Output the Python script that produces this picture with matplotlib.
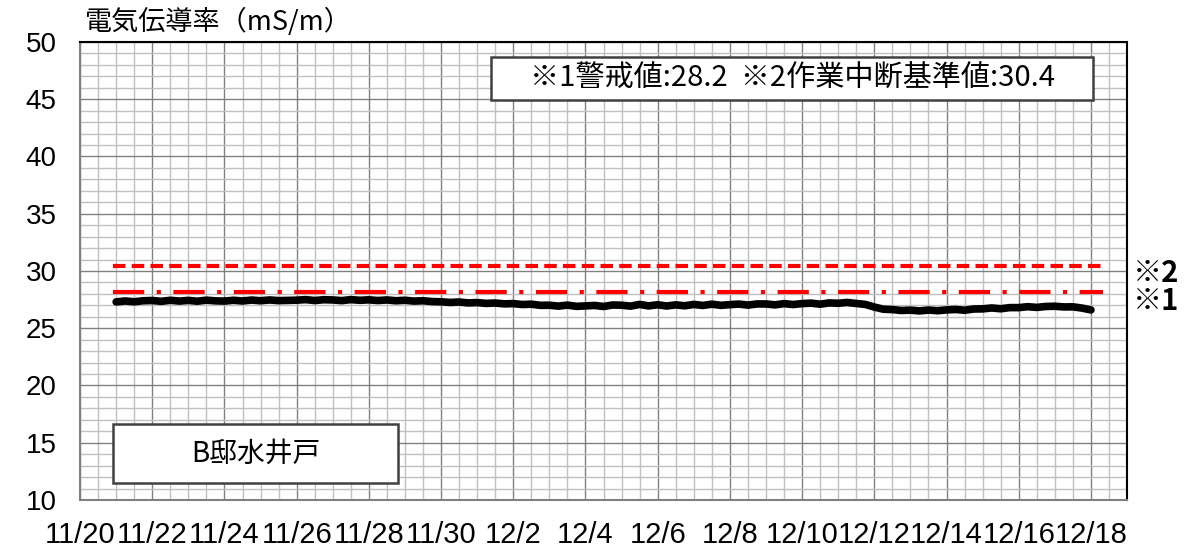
"""
B邸水井戸 電気伝導率の推移 (11/20 - 12/18)
"""

import matplotlib.pyplot as plt
import matplotlib.dates as mdates
from matplotlib.patches import Rectangle
from matplotlib.ticker import MultipleLocator, FixedLocator
import pandas as pd

# measured EC (mS/m), 6-hourly from 11/21 00:00 to 12/18 00:00
ec = [
    27.30, 27.38, 27.31, 27.40,
    27.42, 27.35, 27.44, 27.37,
    27.43, 27.36, 27.45, 27.39,
    27.37, 27.44, 27.38, 27.46,
    27.40, 27.47, 27.41, 27.43,
    27.45, 27.50, 27.42, 27.49,
    27.47, 27.41, 27.50, 27.44,
    27.48, 27.42, 27.47, 27.40,
    27.44, 27.37, 27.40, 27.33,
    27.31, 27.25, 27.29, 27.21,
    27.24, 27.17, 27.20, 27.13,
    27.15, 27.07, 27.10, 27.00,
    27.01, 26.93, 27.02, 26.91,
    26.95, 26.99, 26.90, 27.03,
    27.01, 26.93, 27.08, 26.95,
    27.05, 26.94, 27.04, 26.96,
    27.08, 26.99, 27.10, 27.00,
    27.06, 27.11, 27.02, 27.12,
    27.12, 27.04, 27.15, 27.07,
    27.15, 27.19, 27.10, 27.21,
    27.18, 27.25, 27.16, 27.08,
    26.85, 26.66, 26.63, 26.55,
    26.58, 26.51, 26.59, 26.53,
    26.60, 26.64, 26.57, 26.68,
    26.69, 26.77, 26.70, 26.80,
    26.80, 26.88, 26.82, 26.90,
    26.92, 26.86, 26.87, 26.76,
    26.60,
]
times = pd.date_range('2023-11-21 00:00', periods=len(ec), freq='6h')

warn_value = 28.2     # ※1 警戒値
stop_value = 30.4     # ※2 作業中断基準値
ref_span = pd.to_datetime(['2023-11-20 22:00', '2023-12-18 08:00'])

x_min, x_max = pd.Timestamp('2023-11-20'), pd.Timestamp('2023-12-19')
x_ticks = pd.date_range('2023-11-20', '2023-12-18', freq='2D')
y_min, y_max = 10, 50

jp = ['Noto Sans CJK JP', 'DejaVu Sans']
num = ['Liberation Sans', 'DejaVu Sans']

fig = plt.figure(figsize=(12, 5.51), dpi=100)
ax = fig.add_axes([0.0667, 0.0926, 0.8725, 0.8312])

ax.plot(ref_span, [stop_value] * 2, color='#ff0000', lw=3, dashes=(3, 1.5),
        dash_capstyle='butt', zorder=4)
ax.plot(ref_span, [warn_value] * 2, color='#ff0000', lw=3, dashes=(7.5, 3, 1, 3),
        dash_capstyle='butt', zorder=4)
ax.plot(times, ec, color='black', lw=5.5, solid_capstyle='round',
        solid_joinstyle='round', zorder=5)

ax.set_xlim(x_min, x_max)
ax.set_ylim(y_min, y_max)

ax.xaxis.set_major_locator(FixedLocator(mdates.date2num(x_ticks)))
ax.xaxis.set_minor_locator(mdates.HourLocator(byhour=[0, 12]))
ax.xaxis.set_major_formatter(
    plt.FuncFormatter(lambda v, p: f'{mdates.num2date(v).month}/{mdates.num2date(v).day}'))
ax.yaxis.set_major_locator(MultipleLocator(5))
ax.yaxis.set_minor_locator(MultipleLocator(1))

ax.grid(which='minor', color='#c0c0c0', lw=1.0, zorder=0)
ax.grid(which='major', color='#808080', lw=1.0, zorder=1)
ax.set_axisbelow(True)

ax.tick_params(which='both', length=0)
ax.tick_params(axis='y', pad=17, labelsize=20)
ax.tick_params(axis='x', pad=15, labelsize=21)
for lab in ax.get_xticklabels() + ax.get_yticklabels():
    lab.set_family(num)

for side in ['top', 'right']:
    ax.spines[side].set_color('black')
    ax.spines[side].set_linewidth(1.5)
for side in ['left', 'bottom']:
    ax.spines[side].set_color('#808080')
    ax.spines[side].set_linewidth(1.5)

# threshold note box
ax.add_patch(Rectangle((0.3926, 0.873), 0.575, 0.094, transform=ax.transAxes,
                       facecolor='white', edgecolor='#404040', lw=1.8, zorder=6))
ax.text(0.680, 0.920, '※1警戒値:28.2  ※2作業中断基準値:30.4', transform=ax.transAxes,
        ha='center', va='center', fontsize=21, family=jp, zorder=7)

# location box
ax.add_patch(Rectangle((0.0315, 0.0371), 0.272, 0.129, transform=ax.transAxes,
                       facecolor='white', edgecolor='#404040', lw=1.8, zorder=6))
ax.text(0.1676, 0.1015, 'B邸水井戸', transform=ax.transAxes,
        ha='center', va='center', fontsize=20, family=jp, zorder=7)

fig.text(0.071, 0.935, '電気伝導率（mS/m）', fontsize=19.5, family=jp, ha='left', va='bottom')

fig.text(0.944, 0.504, '※2', fontsize=21, fontweight='bold', family=jp, ha='left', va='center')
fig.text(0.944, 0.454, '※1', fontsize=21, fontweight='bold', family=jp, ha='left', va='center')

fig.savefig('out.png', dpi=100)
